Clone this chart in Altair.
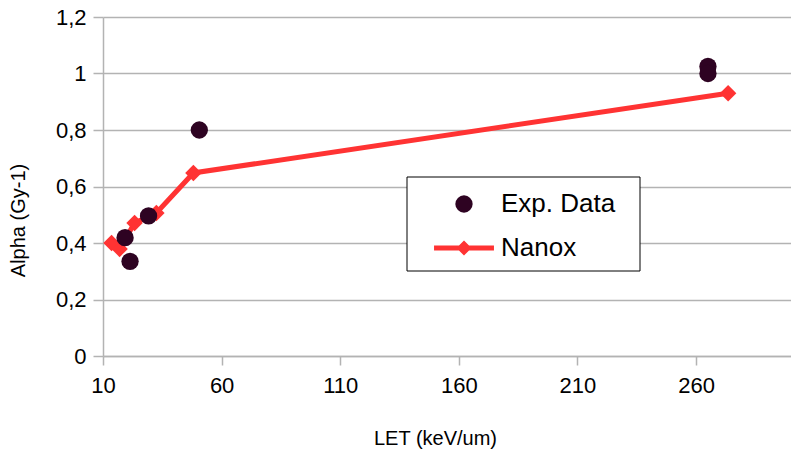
import altair as alt
import pandas as pd

# Measured radiosensitivity (alpha) versus LET, and the Nanox model curve
exp_let = [19.3, 21.4, 29.2, 50.6, 265.0, 265.0]
exp_alpha = [0.419, 0.335, 0.496, 0.80, 1.025, 1.0]
nanox_let = [13.6, 17.0, 23.3, 32.5, 48.1, 273.5]
nanox_alpha = [0.40, 0.379, 0.471, 0.506, 0.648, 0.93]

series_names = ["Exp. Data", "Nanox"]
series_colors = ["#2e0322", "#ff3333"]
x_ticks = [10, 60, 110, 160, 210, 260]
y_ticks = [0, 0.2, 0.4, 0.6, 0.8, 1.0, 1.2]

exp_df = pd.DataFrame({"LET": exp_let, "alpha": exp_alpha, "series": series_names[0]})
nanox_df = pd.DataFrame({"LET": nanox_let, "alpha": nanox_alpha, "series": series_names[1]})

FONT = "Liberation Sans"
GREY = "#b3b3b3"

# legend glyph for the model: a thick line with a diamond in the middle
nanox_glyph = ("M-3.46,-0.29 L-0.58,-0.29 L0,-0.87 L0.58,-0.29 L3.46,-0.29 "
               "L3.46,0.29 L0.58,0.29 L0,0.87 L-0.58,0.29 L-3.46,0.29 Z")

x_enc = alt.X(
    "LET:Q",
    scale=alt.Scale(domain=[10, 300], nice=False, zero=False),
    axis=alt.Axis(
        values=x_ticks, title="LET (keV/um)", grid=False,
        tickSize=9, labelPadding=10, labelFlush=False,
        titleX=332, titleY=82, titleBaseline="middle", titleAlign="center",
    ),
)
y_enc = alt.Y(
    "alpha:Q",
    scale=alt.Scale(domain=[0, 1.2], nice=False),
    axis=alt.Axis(
        values=y_ticks, title="Alpha (Gy-1)", grid=True,
        labelExpr="replace(format(datum.value, '.1~f'), '.', ',')",
        tickSize=10, labelPadding=7, labelFlush=False,
        titleX=-85, titleY=203, titleAngle=270,
        titleAlign="center", titleBaseline="middle",
    ),
)

legend = alt.Legend(
    title=None, orient="none", legendX=303, legendY=159,
    padding=15, rowPadding=18, symbolOffset=30, labelOffset=24,
    strokeColor="transparent", fillColor="transparent",
    labelFont=FONT, labelFontSize=26, labelColor="#000000",
    symbolStrokeWidth=0, symbolSize=300,
)

# white framed box behind the legend entries
legend_box = alt.Chart(exp_df.head(1)).mark_rect(
    fill="#ffffff", stroke="#000000", strokeWidth=1
).encode(
    x=alt.value(304), x2=alt.value(537), y=alt.value(160), y2=alt.value(254)
)

line = alt.Chart(nanox_df).mark_line(color=series_colors[1], strokeWidth=5).encode(
    x=x_enc, y=y_enc
)
diamonds = alt.Chart(nanox_df).mark_point(
    shape="diamond", filled=True, size=270, opacity=1, color=series_colors[1]
).encode(x=x_enc, y=y_enc)
points = alt.Chart(exp_df).mark_point(filled=True, size=300, opacity=1).encode(
    x=x_enc,
    y=y_enc,
    color=alt.Color("series:N", scale=alt.Scale(domain=series_names, range=series_colors), legend=legend),
    shape=alt.Shape("series:N", scale=alt.Scale(domain=series_names, range=["circle", nanox_glyph]), legend=legend),
)

chart = (
    alt.layer(legend_box, line, diamonds, points)
    .properties(
        width=688, height=339,
        autosize=alt.AutoSizeParams(type="none"),
        padding={"left": 103, "top": 17, "right": 0, "bottom": 99},
        background="#ffffff",
    )
    .configure_view(stroke=None)
    .configure_axis(
        labelFont=FONT, labelFontSize=22, labelColor="#000000",
        titleFont=FONT, titleFontSize=20, titleColor="#000000", titleFontWeight="normal",
        domainColor=GREY, tickColor=GREY, gridColor=GREY,
        domainWidth=1.5, tickWidth=1.5, gridWidth=1.5,
    )
)

chart.save("out.html", embed_options={"renderer": "svg", "actions": False})
